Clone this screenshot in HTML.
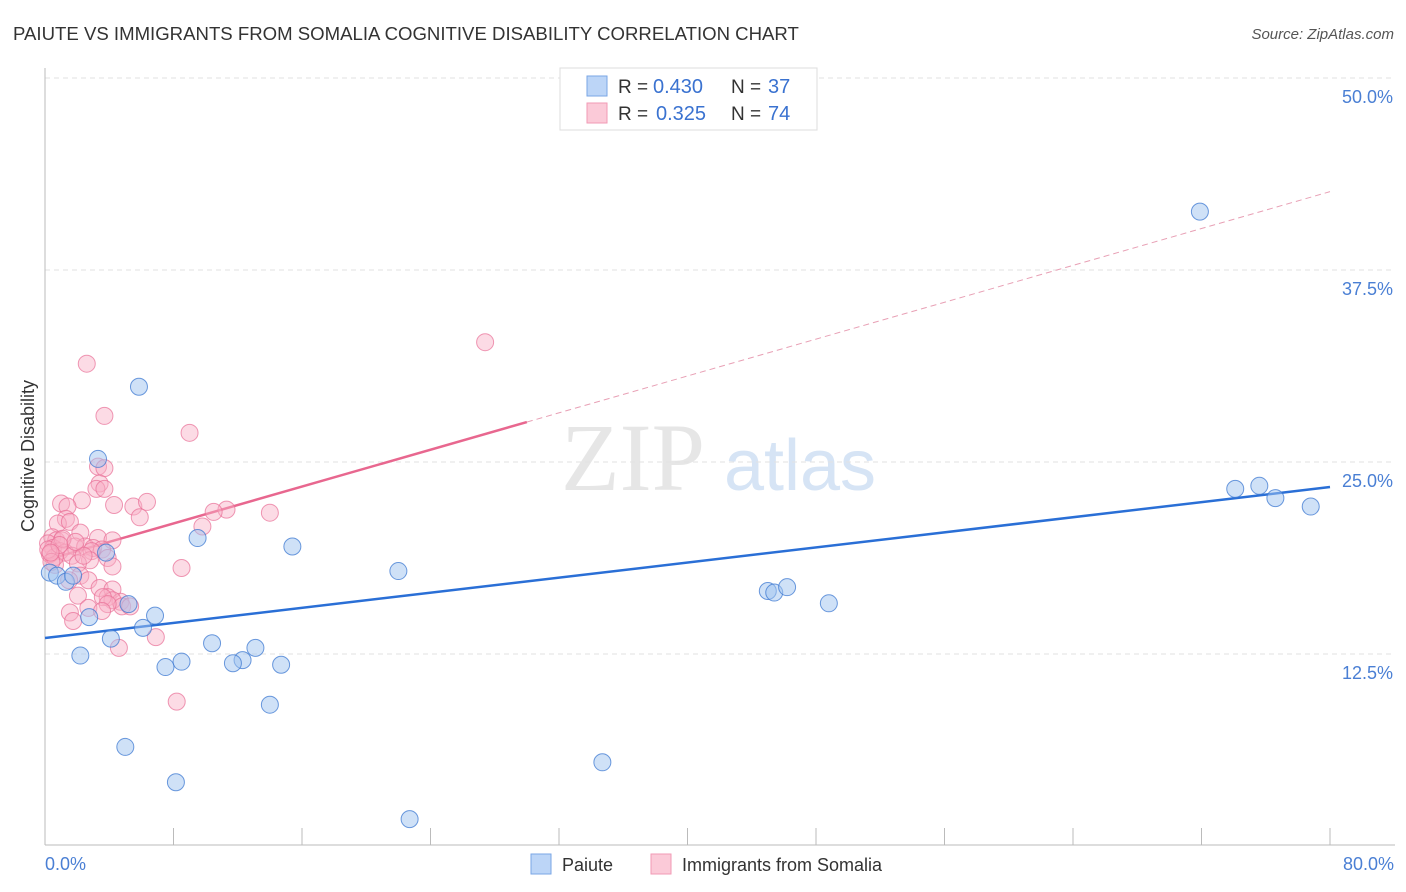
<!DOCTYPE html>
<html><head><meta charset="utf-8"><style>
body{margin:0;background:#fff;font-family:"Liberation Sans",sans-serif;}
svg{display:block}
</style></head><body>
<svg id="chart" width="1406" height="892">
<text x="13" y="40" font-size="18.6" fill="#333">PAIUTE VS IMMIGRANTS FROM SOMALIA COGNITIVE DISABILITY CORRELATION CHART</text>
<text x="1394" y="39" font-size="15" fill="#555" text-anchor="end" font-style="italic">Source: ZipAtlas.com</text>
<text x="633" y="490" font-size="96" fill="#e6e6e6" font-family="Liberation Serif,serif" text-anchor="middle">ZIP</text>
<text x="800" y="490" font-size="72" fill="#d6e4f5" text-anchor="middle">atlas</text>
<g id="grid"></g><g id="axes"></g><g id="lines"></g><g id="pts"></g>
<text transform="translate(34,456) rotate(-90)" font-size="18" fill="#333" text-anchor="middle">Cognitive Disability</text>
<text x="45" y="870" font-size="18" fill="#4a7fd4">0.0%</text>
<text x="1394" y="870" font-size="18" fill="#4a7fd4" text-anchor="end">80.0%</text>
<g>
<rect x="560" y="68" width="257" height="62" fill="#fff" stroke="#ddd"/>
<rect x="587" y="76" width="20" height="20" fill="#bcd5f7" stroke="#7aa6e6"/>
<rect x="587" y="103" width="20" height="20" fill="#fbcad8" stroke="#f29ab5"/>
<text x="618" y="93" font-size="19" fill="#333">R =</text>
<text x="653" y="93" font-size="20" fill="#3a72d0">0.430</text>
<text x="731" y="93" font-size="19" fill="#333">N =</text>
<text x="768" y="93" font-size="20" fill="#3a72d0">37</text>
<text x="618" y="120" font-size="19" fill="#333">R =</text>
<text x="656" y="120" font-size="20" fill="#3a72d0">0.325</text>
<text x="731" y="120" font-size="19" fill="#333">N =</text>
<text x="768" y="120" font-size="20" fill="#3a72d0">74</text>
</g>
<g>
<rect x="531" y="854" width="20" height="20" fill="#bcd5f7" stroke="#7aa6e6"/>
<text x="562" y="871" font-size="18" fill="#333">Paiute</text>
<rect x="651" y="854" width="20" height="20" fill="#fbcad8" stroke="#f29ab5"/>
<text x="682" y="871" font-size="18" fill="#333">Immigrants from Somalia</text>
</g>
</svg>
<script>
const yTicks=[12.5,25,37.5,50];
const blueX=[71.9,5.85,3.3,9.5,15.4,3.8,22.0,0.3,0.75,1.3,1.75,5.2,6.85,2.75,6.1,4.1,10.4,13.1,2.2,8.5,12.3,7.5,11.7,14.7,14.0,5.0,8.15,34.7,22.7,45.0,45.4,46.2,48.8,74.1,75.6,76.6,78.8];
const blueY=[41.3,29.9,25.2,20.05,19.5,19.1,17.9,17.8,17.6,17.2,17.6,15.75,15.0,14.9,14.2,13.5,13.2,12.9,12.4,12.0,12.1,11.65,11.9,11.8,9.2,6.45,4.15,5.45,1.75,16.6,16.5,16.85,15.8,23.25,23.45,22.65,22.1];
const pinkX=[27.4,2.6,3.7,9.0,3.3,3.7,3.4,3.2,3.7,2.3,1.0,1.4,4.3,5.5,6.35,11.3,10.5,5.9,14.0,1.3,0.8,1.55,9.8,2.2,0.45,0.7,1.05,3.3,4.2,0.19,0.5,0.93,1.87,2.5,3.0,3.55,1.25,1.68,2.9,2.8,3.9,0.62,2.05,4.2,8.5,2.2,2.7,1.5,3.4,4.2,3.9,4.7,4.2,3.6,4.8,2.05,5.3,3.9,1.55,2.7,3.55,1.75,6.9,4.6,8.2,0.3,0.6,0.2,1.1,0.4,0.9,2.4,1.9,0.35];
const pinkY=[32.8,31.4,28.0,26.9,24.7,24.6,23.6,23.25,23.25,22.5,22.3,22.1,22.2,22.1,22.4,21.9,21.75,21.4,21.7,21.3,21.0,21.1,20.8,20.4,20.1,19.9,19.9,20.05,19.9,19.7,19.4,19.2,19.5,19.5,19.4,19.3,19.1,18.9,19.2,18.6,18.75,18.3,18.4,18.2,18.1,17.6,17.3,17.3,16.8,16.7,16.2,15.9,16.0,16.2,15.6,16.3,15.6,15.75,15.2,15.5,15.3,14.65,13.6,12.9,9.4,19.0,18.8,19.3,20.0,18.5,19.6,18.9,19.8,19.1];
const blueLine=[13.54,23.37];
const pinkLine=[18.6,42.6];
const pinkSolidEnd=30;
const X=v=>45+v/80*1285, Y=v=>846-v/12.5*192;
const NS="http://www.w3.org/2000/svg";
function mk(t,p,a){const e=document.createElementNS(NS,t);for(const k in a)e.setAttribute(k,a[k]);p.appendChild(e);return e;}
const grid=document.getElementById('grid'),axes=document.getElementById('axes'),lines=document.getElementById('lines'),pts=document.getElementById('pts');
yTicks.forEach(t=>{const l=mk('line',grid,{x1:45,x2:1395,y1:Y(t),y2:Y(t),stroke:'#e2e2e2','stroke-dasharray':'5,4'});


const tx=mk('text',grid,{x:1393,y:Y(t)+25,'font-size':18,fill:'#4a7fd4','text-anchor':'end'});tx.textContent=t.toFixed(1)+'%';

});
let a=mk('line',axes,{x1:45,x2:45,y1:68,y2:845,stroke:'#bbb'});


a=mk('line',axes,{x1:45,x2:1395,y1:845,y2:845,stroke:'#bbb'});


for(let i=1;i<=10;i++){const t=mk('line',axes,{x1:X(i*8),x2:X(i*8),y1:828,y2:845,stroke:'#bbb'});

}
function pl(v0,v1,x0,x1){return {x1:X(x0),x2:X(x1),y1:Y(v0+(v1-v0)*x0/80),y2:Y(v0+(v1-v0)*x1/80)};}
let ln=mk('line',lines,Object.assign(pl(blueLine[0],blueLine[1],0,80),{stroke:'#2a6fd6','stroke-width':2.5}));


ln=mk('line',lines,Object.assign(pl(pinkLine[0],pinkLine[1],0,pinkSolidEnd),{stroke:'#e8678f','stroke-width':2.5}));


ln=mk('line',lines,Object.assign(pl(pinkLine[0],pinkLine[1],pinkSolidEnd,80),{stroke:'#e8a0b5','stroke-width':1,'stroke-dasharray':'6,4'}));


pinkX.forEach((x,i)=>{const c=mk('circle',pts,{cx:X(x),cy:Y(pinkY[i]),r:8.5,fill:'rgba(248,175,198,0.45)',stroke:'rgba(232,110,150,0.7)','stroke-width':1});

});
blueX.forEach((x,i)=>{const c=mk('circle',pts,{cx:X(x),cy:Y(blueY[i]),r:8.5,fill:'rgba(160,196,240,0.5)',stroke:'rgba(60,120,210,0.75)','stroke-width':1});

});
</script>
</body></html>
